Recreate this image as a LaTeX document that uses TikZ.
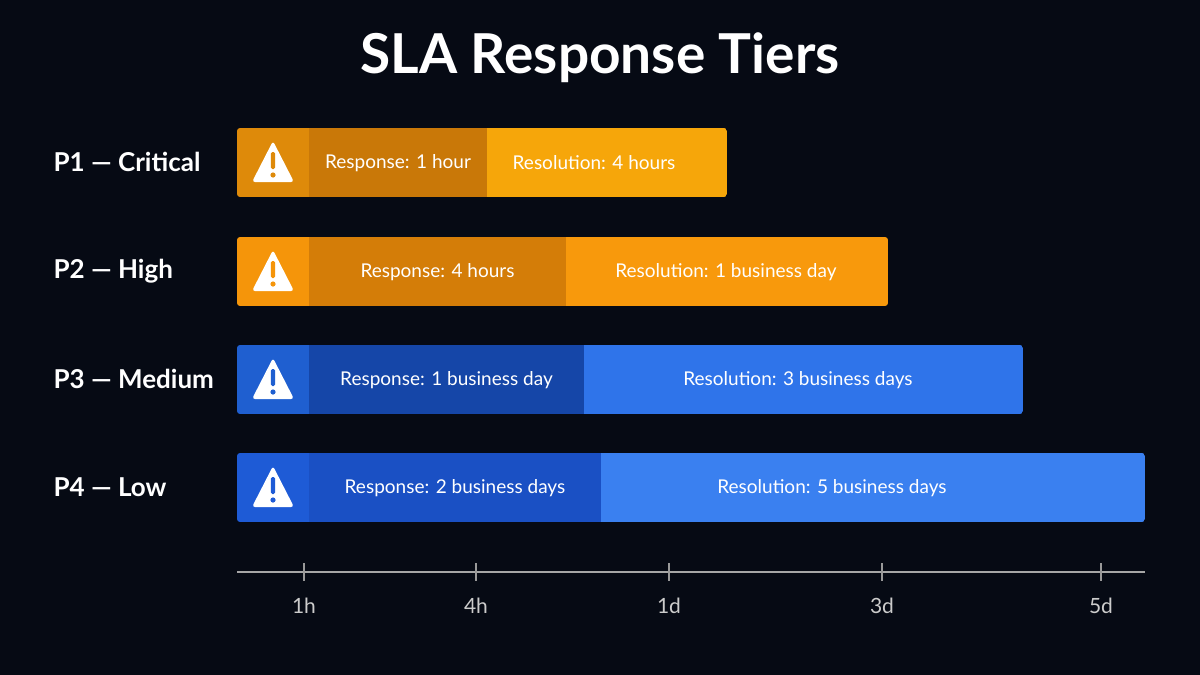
\documentclass[tikz,border=0pt]{standalone}
\usepackage{fontspec}
\setmainfont{Lato}
\begin{document}
\begin{tikzpicture}[x=1pt,y=-1pt,
  lbl/.style={text=white,font=\fontsize{19}{22}\selectfont},
  tier/.style={text=white,font=\fontsize{26}{30}\selectfont\bfseries,anchor=west},
  tick/.style={text=white!80!black,font=\fontsize{21}{24}\selectfont}]
\definecolor{bg}{HTML}{060A14}
\definecolor{aI}{HTML}{DE8A0A}\definecolor{aR}{HTML}{C97808}\definecolor{aS}{HTML}{F6A60A}
\definecolor{bI}{HTML}{F5950A}\definecolor{bR}{HTML}{D47D08}\definecolor{bS}{HTML}{F8990C}
\definecolor{cI}{HTML}{1F5FD0}\definecolor{cR}{HTML}{1546A8}\definecolor{cS}{HTML}{2F74EA}
\definecolor{dI}{HTML}{1E5BD6}\definecolor{dR}{HTML}{1A50C4}\definecolor{dS}{HTML}{3A80F0}
\fill[bg] (0,0) rectangle (1200,675);
\node[text=white,font=\fontsize{55}{60}\selectfont\bfseries] (title) at (600,58) {SLA Response Tiers};
% #1 top, #2 ic col, #3 resp col, #4 res col, #5 x1, #6 x2, #7 response, #8 resolution, #9 tier
\newcommand\slarow[9]{%
  \begin{scope}
  \clip[rounded corners=3pt] (237,#1) rectangle (#6,#1+69);
  \fill[#2] (237,#1) rectangle (309,#1+69);
  \fill[#3] (309,#1) rectangle (#5,#1+69);
  \fill[#4] (#5,#1) rectangle (#6,#1+69);
  \end{scope}
  \fill[white,rounded corners=3pt] (273,#1+13) -- (294,#1+54) -- (252,#1+54) -- cycle;
  \fill[#2,rounded corners=1.5pt] (270.8,#1+24) rectangle (275.2,#1+41);
  \fill[#2] (273,#1+47) circle (2.6);
  \node[lbl] at ({(309+#5)/2},#1+35) {#7};
  \node[tier] at (50,#1+34) {#9};
  \slaresx{#1}{#8}%
}
\newcommand\slaresx[2]{\node[lbl] at (\resx,#1+35) {#2};}
\def\resx{594}
\slarow{128}{aI}{aR}{aS}{487}{727}{Response: 1 hour}{Resolution: 4 hours}{P1 — Critical}
\def\resx{726}
\slarow{237}{bI}{bR}{bS}{566}{888}{Response: 4 hours}{Resolution: 1 business day}{P2 — High}
\def\resx{798}
\slarow{345}{cI}{cR}{cS}{584}{1023}{Response: 1 business day}{Resolution: 3 business days}{P3 — Medium}
\def\resx{832}
\slarow{453}{dI}{dR}{dS}{601}{1145}{Response: 2 business days}{Resolution: 5 business days}{P4 — Low}
\coordinate (a0) at (237,572); \coordinate (a1) at (1145,572);
\draw[gray!70,line width=1.5pt] (a0) -- (a1);
\foreach \x/\t in {304/1h,476/4h,669/1d,882/3d,1101/5d}{
  \draw[gray!80,line width=1.5pt] (\x,563) -- (\x,581);
  \node[tick] at (\x,606) {\t};}
\end{tikzpicture}
\end{document}
